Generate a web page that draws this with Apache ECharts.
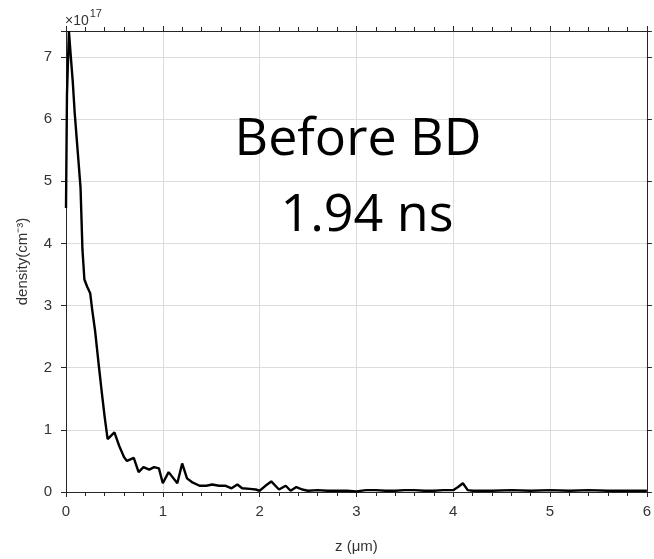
<!DOCTYPE html>
<html>
<head>
<meta charset="utf-8">
<script src="https://cdn.jsdelivr.net/npm/echarts@6/dist/echarts.min.js"></script>
<style>html,body{margin:0;padding:0;background:#fff}#c{width:654px;height:559px}</style>
</head>
<body>
<div id="c"></div>
<script>
// z (µm)
const zValues = [0.00,0.01,0.03,0.05,0.07,0.09,0.11,0.13,0.15,0.16,0.17,0.19,0.22,0.25,0.27,0.30,0.34,0.37,0.40,0.43,0.45,0.50,0.55,0.60,0.63,0.65,0.70,0.75,0.80,0.86,0.91,0.96,1.00,1.06,1.15,1.20,1.25,1.30,1.38,1.45,1.51,1.58,1.65,1.71,1.77,1.82,1.90,1.96,2.00,2.06,2.12,2.20,2.27,2.32,2.38,2.44,2.50,2.60,2.70,2.80,2.90,3.00,3.10,3.20,3.30,3.40,3.50,3.60,3.70,3.80,3.90,4.00,4.05,4.10,4.15,4.20,4.40,4.60,4.80,5.00,5.20,5.40,5.60,5.80,6.00];
// density (x 1e17 cm^-3)
const densityValues = [4.57,6.40,7.42,7.00,6.60,6.10,5.70,5.30,4.90,4.40,3.90,3.42,3.30,3.20,2.94,2.60,2.02,1.60,1.20,0.85,0.83,0.96,0.74,0.56,0.50,0.48,0.55,0.32,0.40,0.36,0.40,0.38,0.14,0.32,0.14,0.46,0.22,0.16,0.10,0.10,0.12,0.10,0.10,0.06,0.12,0.06,0.05,0.04,0.02,0.10,0.17,0.04,0.10,0.02,0.08,0.04,0.02,0.03,0.02,0.02,0.02,0.01,0.03,0.03,0.02,0.02,0.03,0.03,0.02,0.02,0.03,0.03,0.08,0.14,0.03,0.02,0.02,0.03,0.02,0.03,0.02,0.03,0.02,0.02,0.02];
const xTicks = [0,1,2,3,4,5,6];
const yTicks = [0,1,2,3,4,5,6,7];

const chart = echarts.init(document.getElementById('c'));
const font = '"Liberation Sans", Arial, sans-serif';
const bigFont = '"Open Sans", Lato, sans-serif';
const axisCommon = {
  axisLine: {show: true, onZero: false, lineStyle: {color: '#262626', width: 1}},
  axisTick: {show: true, inside: false, length: 5, lineStyle: {color: '#262626'}},
};
chart.setOption({
  animation: false,
  grid: {left: 66, right: 3, top: 31, bottom: 66, containLabel: false},
  xAxis: [{
    type: 'value', position: 'bottom', min: 0, max: 6, interval: 1,
    ...axisCommon,
    minorTick: {show: true, splitNumber: 5, length: 4, lineStyle: {color: '#262626'}},
    axisLabel: {color: '#333', fontFamily: font, fontSize: 15, margin: 12,
      formatter: v => xTicks.includes(v) ? String(v) : ''},
    splitLine: {show: true, lineStyle: {color: '#dcdcdc', width: 1}},
    name: 'z (\u03bcm)', nameLocation: 'middle', nameGap: 47,
    nameTextStyle: {color: '#333', fontFamily: font, fontSize: 15}
  }, {
    type: 'value', position: 'top', min: 0, max: 6, interval: 1,
    ...axisCommon,
    minorTick: {show: true, splitNumber: 5, length: 4, lineStyle: {color: '#262626'}},
    axisLabel: {show: false}, splitLine: {show: false}
  }],
  yAxis: [{
    type: 'value', position: 'left', min: 0, max: 7.42, interval: 1,
    ...axisCommon,
    axisLabel: {color: '#333', fontFamily: font, fontSize: 15, margin: 14,
      formatter: v => yTicks.includes(v) ? String(v) : ''},
    splitLine: {show: true, lineStyle: {color: '#dcdcdc', width: 1}},
    name: 'density(cm\u207b\u00b3)', nameLocation: 'middle', nameGap: 36,
    nameTextStyle: {color: '#333', fontFamily: font, fontSize: 15}
  }, {
    type: 'value', position: 'right', min: 0, max: 7.42, interval: 1,
    ...axisCommon,
    axisLabel: {show: false}, splitLine: {show: false}
  }],
  series: [{
    type: 'line', xAxisIndex: 0, yAxisIndex: 0,
    data: zValues.map((z, i) => [z, densityValues[i]]),
    showSymbol: false, symbol: 'none',
    lineStyle: {color: '#000', width: 2.4}, z: 5
  }],
  graphic: [
    {type: 'text', left: 65, top: 8, z: 10,
      style: {text: '{a|\u00d710}{b|17}', rich: {
        a: {fontFamily: font, fontSize: 14, fill: '#333', padding: [6,0,0,0]},
        b: {fontFamily: font, fontSize: 11, fill: '#333', padding: [0,0,0,1], verticalAlign: 'top'}
      }}},
    {type: 'text', x: 358, y: 140, z: 10,
      style: {text: 'Before BD', fontFamily: bigFont, fontSize: 52,
        fill: '#000', align: 'center', verticalAlign: 'middle'}},
    {type: 'text', x: 367, y: 216, z: 10,
      style: {text: '1.94 ns', fontFamily: bigFont, fontSize: 52,
        fill: '#000', align: 'center', verticalAlign: 'middle'}}
  ]
});
</script>
</body>
</html>
